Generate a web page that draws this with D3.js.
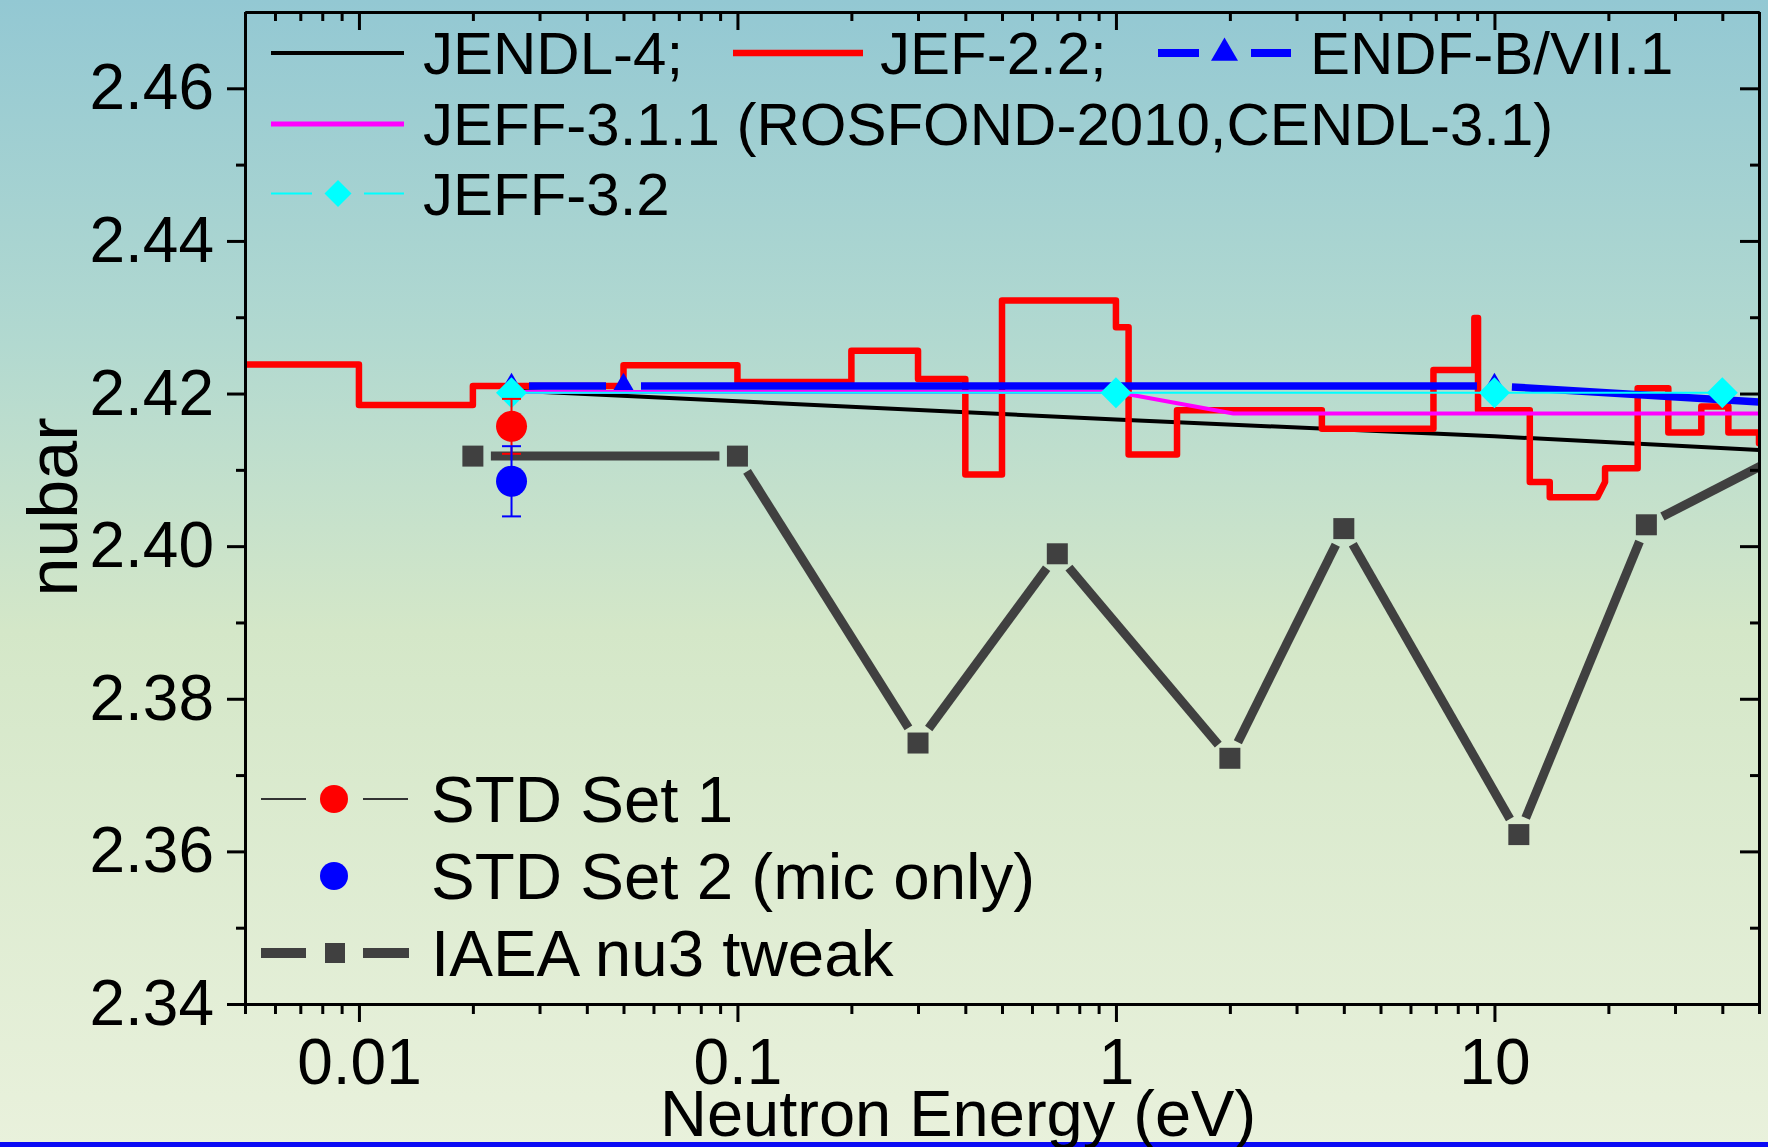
<!DOCTYPE html>
<html>
<head>
<meta charset="utf-8">
<script src="https://cdn.jsdelivr.net/npm/d3@7"></script>
<style>
html, body { margin: 0; padding: 0; }
body { width: 1768px; height: 1147px; overflow: hidden; }
text { font-family: "Liberation Sans", Arial, sans-serif; fill: #000; }
</style>
</head>
<body>
<svg width="1768" height="1147"></svg>
<script>
const width = 1768
const height = 1147
const plot = { top: 12, bottom: 1004, left: 245, right: 1759 }

// --- data (energy in eV, nubar) ---
const jendlE  = [0.0253, 1, 10, 50]
const jendlNu = [2.4204, 2.4166, 2.4144, 2.4126]

// JEF-2.2 is a histogram: vertices of the step outline
const jefE  = [0.005, 0.01, 0.01, 0.02, 0.02, 0.05, 0.05, 0.1, 0.1, 0.2, 0.2, 0.3, 0.3, 0.4, 0.4, 0.5, 0.5, 1.0, 1.0, 1.08,
               1.08, 1.45, 1.45, 3.5, 3.5, 6.9, 6.9, 8.85, 8.85, 9.05, 9.05, 12.4, 12.4, 14.0, 14.0, 18.7, 19.6, 19.6,
               23.9, 23.9, 28.8, 28.8, 35.2, 35.2, 41.5, 41.5, 50, 50]
const jefNu = [2.4238, 2.4238, 2.4185, 2.4185, 2.4210, 2.4210, 2.4237, 2.4237, 2.4215, 2.4215, 2.4256, 2.4256, 2.4219, 2.4219,
               2.4094, 2.4094, 2.4322, 2.4322, 2.4287, 2.4287, 2.4120, 2.4120, 2.4178, 2.4178, 2.4154, 2.4154, 2.4231, 2.4231,
               2.4299, 2.4299, 2.4178, 2.4178, 2.4084, 2.4084, 2.4064, 2.4064, 2.4084, 2.4102, 2.4102, 2.4207, 2.4207,
               2.4149, 2.4149, 2.4183, 2.4183, 2.4149, 2.4149, 2.4135]

const endfE  = [0.0253, 0.05, 10, 100]
const endfNu = [2.4210, 2.4210, 2.4210, 2.4180]

const jeff311E  = [0.0253, 1, 2.04, 50]
const jeff311Nu = [2.4202, 2.4202, 2.4174, 2.4174]

const jeff32E  = [0.0253, 1, 10, 40]
const jeff32Nu = [2.4201, 2.4201, 2.4201, 2.4201]

const stdLabels = ["STD Set 1", "STD Set 2 (mic only)"]
const stdE   = [0.0253, 0.0253]
const stdNu  = [2.4157, 2.4085]
const stdErr = [0.0036, 0.0046]
const stdColors = ["#ff0000", "#0000ff"]

const iaeaE  = [0.02, 0.1, 0.3, 0.7, 2, 4, 11.6, 25.2, 60]
const iaeaNu = [2.4118, 2.4118, 2.3742, 2.3990, 2.3722, 2.4023, 2.3622, 2.4028, 2.4124]

const xTicks = [0.01, 0.1, 1, 10]
const xTickLabels = ["0.01", "0.1", "1", "10"]
const yTicks = [2.34, 2.36, 2.38, 2.40, 2.42, 2.44, 2.46]
const yTickLabels = ["2.34", "2.36", "2.38", "2.40", "2.42", "2.44", "2.46"]

const x = d3.scaleLog().domain([0.005, 50]).range([plot.left, plot.right])
const y = d3.scaleLinear().domain([2.34, 2.47]).range([plot.bottom, plot.top])

const svg = d3.select("svg")

// background gradient
const defs = svg.append("defs")
const grad = defs.append("linearGradient").attr("id", "bg")
  .attr("x1", 0).attr("y1", 0).attr("x2", 0).attr("y2", 1)
grad.append("stop").attr("offset", "0%").attr("stop-color", "#93c8d3")
grad.append("stop").attr("offset", "30%").attr("stop-color", "#b2d9d0")
grad.append("stop").attr("offset", "55%").attr("stop-color", "#d4e7c8")
grad.append("stop").attr("offset", "100%").attr("stop-color", "#e9f1dc")
svg.append("rect").attr("width", width).attr("height", height).attr("fill", "url(#bg)")

defs.append("clipPath").attr("id", "clip").append("rect")
  .attr("x", plot.left).attr("y", plot.top)
  .attr("width", plot.right - plot.left).attr("height", plot.bottom - plot.top)

// blue strip along the bottom edge
svg.append("rect").attr("x", 0).attr("y", 1142).attr("width", width).attr("height", 5).attr("fill", "#0a0af5")

const g = svg.append("g").attr("clip-path", "url(#clip)")

const line = d3.line().x(d => x(d[0])).y(d => y(d[1]))
const zip = (a, b) => a.map((v, i) => [v, b[i]])

// segments shortened near the symbols (gap to symbol)
function gapped(E, V, gap) {
  const pts = E.map((e, i) => [x(e), y(V[i])])
  return d3.pairs(pts).map(([a, b]) => {
    const dx = b[0] - a[0], dy = b[1] - a[1], len = Math.hypot(dx, dy)
    const ux = dx / len, uy = dy / len
    return [a[0] + ux * gap, a[1] + uy * gap, b[0] - ux * gap, b[1] - uy * gap]
  })
}
const diamond = h => "M0," + (-h) + "L" + h + ",0L0," + h + "L" + (-h) + ",0Z"

// JENDL-4
g.append("path").datum(zip(jendlE, jendlNu)).attr("d", line)
  .attr("fill", "none").attr("stroke", "#000").attr("stroke-width", 4)

// JEF-2.2
g.append("path").datum(zip(jefE, jefNu)).attr("d", line)
  .attr("fill", "none").attr("stroke", "#ff0000").attr("stroke-width", 6.5)
  .attr("stroke-linejoin", "round").attr("stroke-linecap", "round")

// ENDF-B/VII.1
g.selectAll("line.endf").data(gapped(endfE, endfNu, 17.5)).join("line")
  .attr("class", "endf")
  .attr("x1", d => d[0]).attr("y1", d => d[1]).attr("x2", d => d[2]).attr("y2", d => d[3])
  .attr("stroke", "#0000ff").attr("stroke-width", 7.5)
g.selectAll("path.endfSym").data(zip(endfE, endfNu)).join("path")
  .attr("class", "endfSym")
  .attr("d", d3.symbol(d3.symbolTriangle, 229))
  .attr("transform", d => "translate(" + x(d[0]) + "," + y(d[1]) + ")")
  .attr("fill", "#0000ff")

// JEFF-3.1.1
g.append("path").datum(zip(jeff311E, jeff311Nu)).attr("d", line)
  .attr("fill", "none").attr("stroke", "#ff00ff").attr("stroke-width", 4)

// JEFF-3.2
g.append("path").datum(zip(jeff32E, jeff32Nu)).attr("d", line)
  .attr("fill", "none").attr("stroke", "#00ffff").attr("stroke-width", 2)
g.selectAll("path.jeff32").data(zip(jeff32E, jeff32Nu)).join("path")
  .attr("class", "jeff32")
  .attr("d", diamond(15.5))
  .attr("transform", d => "translate(" + x(d[0]) + "," + y(d[1]) + ")")
  .attr("fill", "#00ffff")

// IAEA nu3 tweak
g.selectAll("line.iaea").data(gapped(iaeaE, iaeaNu, 18)).join("line")
  .attr("class", "iaea")
  .attr("x1", d => d[0]).attr("y1", d => d[1]).attr("x2", d => d[2]).attr("y2", d => d[3])
  .attr("stroke", "#404040").attr("stroke-width", 9)
g.selectAll("path.iaeaSym").data(zip(iaeaE, iaeaNu)).join("path")
  .attr("class", "iaeaSym")
  .attr("d", d3.symbol(d3.symbolSquare, 441))
  .attr("transform", d => "translate(" + x(d[0]) + "," + y(d[1]) + ")")
  .attr("fill", "#404040")

// STD points with error bars
const std = stdLabels.map((l, i) => ({ e: stdE[i], nu: stdNu[i], err: stdErr[i], c: stdColors[i] }))
const stdG = g.selectAll("g.std").data(std).join("g").attr("class", "std")
stdG.append("line")
  .attr("x1", d => x(d.e)).attr("x2", d => x(d.e))
  .attr("y1", d => y(d.nu - d.err)).attr("y2", d => y(d.nu + d.err))
  .attr("stroke", d => d.c).attr("stroke-width", 2)
stdG.selectAll("line.cap").data(d => [[d, d.nu - d.err], [d, d.nu + d.err]]).join("line")
  .attr("class", "cap")
  .attr("x1", d => x(d[0].e) - 9.5).attr("x2", d => x(d[0].e) + 9.5)
  .attr("y1", d => y(d[1])).attr("y2", d => y(d[1]))
  .attr("stroke", d => d[0].c).attr("stroke-width", 2)
stdG.append("circle")
  .attr("cx", d => x(d.e)).attr("cy", d => y(d.nu)).attr("r", 15.5)
  .attr("fill", d => d.c)

// --- axes ---
const xMinor = x.ticks().filter(v => !xTicks.some(t => Math.abs(t - v) / t < 1e-6))
const yMinor = d3.range(2.35, 2.465, 0.02)

function styleAxis(sel) {
  sel.select(".domain").attr("stroke", "#000").attr("stroke-width", 3)
  sel.selectAll(".tick line").attr("stroke", "#000").attr("stroke-width", 3)
  sel.selectAll("text").attr("font-size", 64).attr("fill", "#000")
  sel.attr("font-family", null)
}

svg.append("g").attr("transform", "translate(0," + plot.bottom + ")")
  .call(d3.axisBottom(x).tickValues(xTicks).tickFormat((d, i) => xTickLabels[i])
    .tickSizeInner(18).tickSizeOuter(0).tickPadding(17))
  .call(styleAxis)
svg.append("g").attr("transform", "translate(0," + plot.bottom + ")")
  .call(d3.axisBottom(x).tickValues(xMinor).tickFormat("").tickSizeInner(10).tickSizeOuter(0))
  .call(styleAxis)
svg.append("g").attr("transform", "translate(0," + plot.top + ")")
  .call(d3.axisBottom(x).tickValues(xTicks).tickFormat("").tickSizeInner(18).tickSizeOuter(0))
  .call(styleAxis)
svg.append("g").attr("transform", "translate(0," + plot.top + ")")
  .call(d3.axisBottom(x).tickValues(xMinor).tickFormat("").tickSizeInner(9).tickSizeOuter(0))
  .call(styleAxis)

svg.append("g").attr("transform", "translate(" + plot.left + ",0)")
  .call(d3.axisLeft(y).tickValues(yTicks).tickFormat((d, i) => yTickLabels[i])
    .tickSizeInner(18).tickSizeOuter(0).tickPadding(13))
  .call(styleAxis)
svg.append("g").attr("transform", "translate(" + plot.left + ",0)")
  .call(d3.axisLeft(y).tickValues(yMinor).tickFormat("").tickSizeInner(9).tickSizeOuter(0))
  .call(styleAxis)
svg.append("g").attr("transform", "translate(" + plot.right + ",0)")
  .call(d3.axisRight(y).tickValues(yTicks).tickFormat("").tickSizeInner(-19).tickSizeOuter(0))
  .call(styleAxis)
svg.append("g").attr("transform", "translate(" + plot.right + ",0)")
  .call(d3.axisRight(y).tickValues(yMinor).tickFormat("").tickSizeInner(-9).tickSizeOuter(0))
  .call(styleAxis)

// axis titles
svg.append("text").attr("x", 958).attr("y", 1136)
  .attr("text-anchor", "middle").attr("font-size", 65)
  .text("Neutron Energy (eV)")
svg.append("text").attr("transform", "translate(77,507) rotate(-90)")
  .attr("text-anchor", "middle").attr("font-size", 70)
  .text("nubar")

// --- legends ---
const leg = svg.append("g")
function legLine(x1, x2, yy, color, w) {
  leg.append("line").attr("x1", x1).attr("x2", x2).attr("y1", yy).attr("y2", yy)
    .attr("stroke", color).attr("stroke-width", w)
}
function legText(xx, yy, label, size) {
  leg.append("text").attr("x", xx).attr("y", yy).attr("dy", "0.35em")
    .attr("font-size", size).text(label)
}
const topLabels = ["JENDL-4;", "JEF-2.2;", "ENDF-B/VII.1", "JEFF-3.1.1 (ROSFOND-2010,CENDL-3.1)", "JEFF-3.2"]

legLine(271, 404, 53, "#000", 4)
legText(423, 53, topLabels[0], 60)
legLine(733, 863, 53, "#ff0000", 6.5)
legText(880, 53, topLabels[1], 60)
legLine(1158, 1199, 53, "#0000ff", 8)
legLine(1251, 1291, 53, "#0000ff", 8)
leg.append("path").attr("d", d3.symbol(d3.symbolTriangle, 315))
  .attr("transform", "translate(1224.5,53)").attr("fill", "#0000ff")
legText(1310, 53, topLabels[2], 60)

legLine(271, 404, 124, "#ff00ff", 5)
legText(423, 124, topLabels[3], 60)

legLine(271, 312, 193.5, "#00ffff", 2)
legLine(364, 404, 193.5, "#00ffff", 2)
leg.append("path").attr("d", diamond(13.5))
  .attr("transform", "translate(338,193.5)").attr("fill", "#00ffff")
legText(423, 193.5, topLabels[4], 60)

legLine(261, 306, 799, "#333", 2)
legLine(363, 408, 799, "#333", 2)
leg.append("circle").attr("cx", 334).attr("cy", 799).attr("r", 14).attr("fill", stdColors[0])
legText(431, 799, stdLabels[0], 65.5)

leg.append("circle").attr("cx", 334).attr("cy", 876).attr("r", 14).attr("fill", stdColors[1])
legText(431, 876, stdLabels[1], 65.5)

legLine(261, 306, 953, "#404040", 10)
legLine(363, 409, 953, "#404040", 10)
leg.append("path").attr("d", d3.symbol(d3.symbolSquare, 400))
  .attr("transform", "translate(335,953)").attr("fill", "#404040")
legText(431, 953, "IAEA nu3 tweak", 65.5)
</script>
</body>
</html>
